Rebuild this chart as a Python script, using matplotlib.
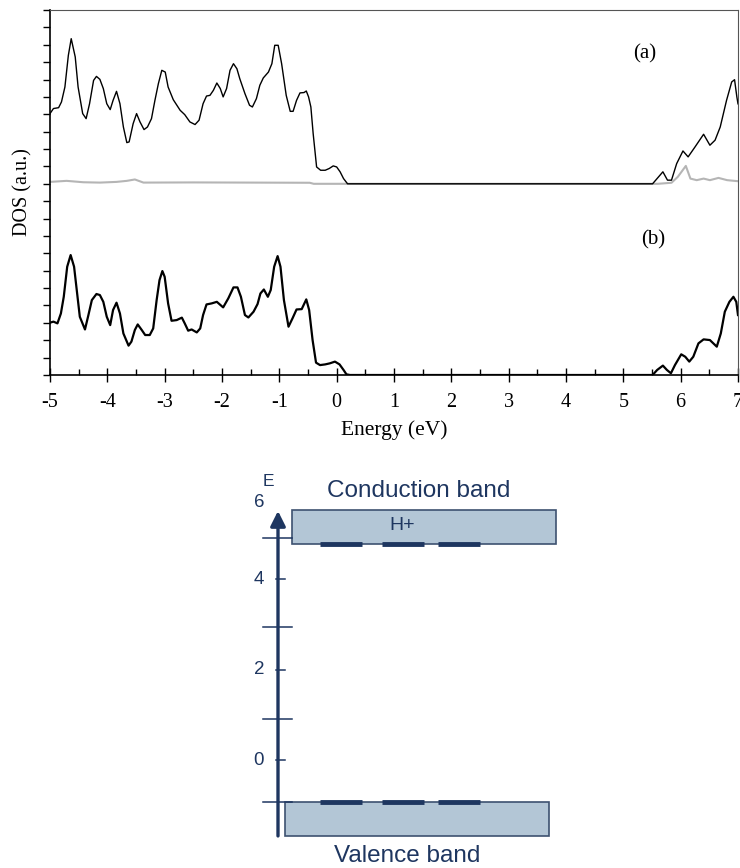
import matplotlib.pyplot as plt
import numpy as np

plt.rcParams["axes.unicode_minus"] = False

# panel (a): total DOS (offset by 11), black curve
energy_a = [-5.00, -4.94, -4.85, -4.80, -4.74, -4.68, -4.63, -4.56, -4.51, -4.43, -4.37, -4.31,
            -4.24, -4.19, -4.13, -4.07, -4.01, -3.95, -3.90, -3.84, -3.78, -3.72, -3.66, -3.62,
            -3.55, -3.49, -3.43, -3.36, -3.30, -3.23, -3.17, -3.11, -3.05, -2.99, -2.94, -2.85,
            -2.73, -2.65, -2.56, -2.47, -2.40, -2.33, -2.27, -2.21, -2.15, -2.09, -2.03, -1.98,
            -1.92, -1.86, -1.80, -1.74, -1.69, -1.60, -1.52, -1.47, -1.40, -1.34, -1.28, -1.19,
            -1.13, -1.08, -1.02, -0.96, -0.88, -0.81, -0.76, -0.70, -0.64, -0.57, -0.53, -0.49,
            -0.45, -0.41, -0.35, -0.28, -0.20, -0.13, -0.06, 0.00, 0.06, 0.12, 0.19,
            5.51, 5.69, 5.77, 5.84, 5.93, 6.04, 6.13, 6.25, 6.40, 6.51, 6.60, 6.69, 6.80, 6.89,
            6.94, 6.98, 7.00]
dos_a = [15.04, 15.33, 15.38, 15.71, 16.57, 18.39, 19.35, 18.30, 16.57, 15.04, 14.75, 15.61,
         16.95, 17.18, 17.01, 16.48, 15.61, 15.27, 15.80, 16.32, 15.61, 14.27, 13.37, 13.41,
         14.46, 15.04, 14.56, 14.12, 14.27, 14.75, 15.80, 16.76, 17.53, 17.43, 16.57, 15.84,
         15.23, 14.98, 14.56, 14.41, 14.66, 15.61, 16.05, 16.09, 16.38, 16.80, 16.48, 16.00,
         16.48, 17.53, 17.91, 17.62, 17.05, 16.19, 15.52, 15.42, 15.90, 16.67, 17.09, 17.43,
         17.91, 18.97, 18.97, 17.91, 16.09, 15.17, 15.17, 15.80, 16.23, 16.25, 16.34, 16.00,
         15.42, 13.89, 11.97, 11.78, 11.78, 11.88, 12.03, 11.97, 11.69, 11.30, 11.00,
         11.00, 11.69, 11.21, 11.21, 12.16, 12.89, 12.55, 13.12, 13.85, 13.22, 13.51, 14.27, 15.80,
         16.86, 16.99, 16.00, 15.60]

# panel (a): hydrogen partial DOS, grey curve
energy_h = [-5.00, -4.71, -4.42, -4.13, -3.84, -3.66, -3.52, -3.37, -2.50, -1.50, -0.47, -0.40,
            5.60, 5.84, 5.95, 6.09, 6.17, 6.28, 6.40, 6.51, 6.66, 6.81, 7.00]
dos_h = [11.11, 11.17, 11.09, 11.07, 11.11, 11.17, 11.25, 11.07, 11.08, 11.07, 11.06, 11.00,
         11.00, 11.06, 11.40, 12.03, 11.30, 11.21, 11.30, 11.21, 11.34, 11.21, 11.15]

# panel (b): DOS without hydrogen
energy_b = [-5.00, -4.94, -4.87, -4.81, -4.76, -4.70, -4.64, -4.58, -4.52, -4.48, -4.39, -4.33,
            -4.27, -4.19, -4.13, -4.07, -4.01, -3.95, -3.90, -3.84, -3.78, -3.72, -3.63, -3.58,
            -3.52, -3.47, -3.40, -3.34, -3.26, -3.20, -3.14, -3.09, -3.04, -3.00, -2.94, -2.88,
            -2.79, -2.70, -2.65, -2.59, -2.53, -2.44, -2.38, -2.33, -2.27, -2.18, -2.09, -1.98,
            -1.89, -1.80, -1.73, -1.67, -1.60, -1.54, -1.45, -1.38, -1.33, -1.27, -1.20, -1.15,
            -1.09, -1.03, -0.98, -0.92, -0.84, -0.77, -0.70, -0.61, -0.53, -0.48, -0.42, -0.36,
            -0.29, -0.20, -0.12, -0.03, 0.05, 0.12, 0.17, 0.23,
            5.51, 5.59, 5.69, 5.76, 5.83, 5.90, 6.01, 6.08, 6.15, 6.22, 6.31, 6.40, 6.51, 6.63,
            6.70, 6.77, 6.85, 6.92, 6.97, 7.00]
dos_b = [3.01, 3.07, 2.97, 3.54, 4.50, 6.23, 6.90, 6.23, 4.50, 3.35, 2.62, 3.45,
         4.31, 4.66, 4.60, 4.21, 3.35, 2.87, 3.74, 4.16, 3.54, 2.39, 1.69, 1.92,
         2.59, 2.91, 2.59, 2.30, 2.30, 2.68, 4.31, 5.46, 5.98, 5.65, 4.12, 3.12,
         3.16, 3.30, 2.97, 2.55, 2.62, 2.45, 2.68, 3.45, 4.06, 4.12, 4.21, 3.89,
         4.41, 5.04, 5.04, 4.50, 3.45, 3.31, 3.64, 4.08, 4.69, 4.92, 4.50, 4.89,
         6.23, 6.84, 6.23, 4.31, 2.78, 3.26, 3.77, 3.79, 4.35, 3.74, 2.01, 0.71,
         0.57, 0.61, 0.67, 0.77, 0.61, 0.29, 0.04, 0.00,
         0.00, 0.29, 0.54, 0.29, 0.10, 0.57, 1.19, 1.05, 0.77, 1.05, 1.82, 2.05, 2.01, 1.63,
         2.39, 3.64, 4.21, 4.50, 4.21, 3.45]

# band diagram (energies in eV)
conduction_band = (4.78, 5.53)
valence_band = (-1.68, -0.93)
labeled_ticks = [0, 2, 4]
plain_ticks = [-0.93, 0.9, 2.94, 4.91]
top_label = ("6", 5.7)
level_names = ("Conduction band", "Valence band", "H+")

navy = "#1e3660"
fill = "#b3c6d6"
edge = "#3d5170"
serif = ["Liberation Serif", "DejaVu Serif"]
sans = ["Liberation Sans", "DejaVu Sans"]

fig = plt.figure(figsize=(7.4, 8.68), dpi=100)

# --- DOS panel ---
ax = fig.add_axes([50 / 740, 1 - 375 / 868, 688 / 740, 365 / 868])
ax.plot(energy_h, dos_h, color="#b5b5b5", lw=1.5)
ax.plot(energy_a, dos_a, color="black", lw=1.0)
ax.plot(energy_b, dos_b, color="black", lw=1.6)
ax.set_xlim(-5, 7)
ax.set_ylim(0, 21)
ax.set_xticks(np.arange(-5, 8, 1))
ax.set_xticks(np.arange(-4.5, 7, 1), minor=True)
ax.set_yticks(np.arange(0, 22, 1))
ax.set_yticklabels([])
ax.tick_params(axis="x", which="major", direction="inout", length=10, width=1.0, pad=8,
               labelsize=14.5)
ax.tick_params(axis="x", which="minor", direction="in", length=4, width=1.0)
ax.tick_params(axis="y", direction="out", length=5, width=1.0)
for lbl in ax.get_xticklabels():
    lbl.set_family(serif)
for side in ("top", "right"):
    ax.spines[side].set_color("#555555")
ax.spines["left"].set_linewidth(1.2)
ax.spines["bottom"].set_linewidth(1.2)
ax.set_xlabel("Energy (eV)", family=serif, fontsize=15.5, labelpad=6)
ax.set_ylabel("DOS (a.u.)", family=serif, fontsize=14.5, labelpad=4)
ax.text(5.38, 18.5, "(a)", family=serif, fontsize=15, ha="center", va="center")
ax.text(5.52, 7.8, "(b)", family=serif, fontsize=15, ha="center", va="center")

# --- band diagram ---
bx = fig.add_axes([230 / 740, 0, 350 / 740, 398 / 868])
bx.set_xlim(0, 350)
bx.set_ylim(-2.389, 6.416)
bx.axis("off")

axis_x = 48
bx.annotate("", xy=(axis_x, conduction_band[1] - 0.02), xytext=(axis_x, valence_band[0]),
            arrowprops=dict(arrowstyle="-|>,head_length=0.9,head_width=0.45", lw=2.4,
                            color=navy, shrinkA=0, shrinkB=0))
for t in plain_ticks:
    bx.plot([33, 62], [t, t], color=navy, lw=1.1)
for t in labeled_ticks:
    bx.plot([46, 55], [t, t], color=navy, lw=1.1)
    bx.text(29, t, str(t), color=navy, family=sans, fontsize=13.5, ha="center", va="center")
bx.text(29, top_label[1], top_label[0], color=navy, family=sans, fontsize=13.5,
        ha="center", va="center")
bx.text(38, 6.17, "E", color=navy, family=sans, fontsize=12.5, ha="center", va="center")

bx.add_patch(plt.Rectangle((62, conduction_band[0]), 264, conduction_band[1] - conduction_band[0],
                           facecolor=fill, edgecolor=edge, lw=1.2))
bx.add_patch(plt.Rectangle((55, valence_band[0]), 264, valence_band[1] - valence_band[0],
                           facecolor=fill, edgecolor=edge, lw=1.2))
for x0, x1 in [(90, 132), (152, 194), (208, 250)]:
    bx.plot([x0, x1], [conduction_band[0], conduction_band[0]], color=navy, lw=3.5,
            solid_capstyle="butt")
    bx.plot([x0, x1], [valence_band[1], valence_band[1]], color=navy, lw=3.5,
            solid_capstyle="butt")

bx.text(189, 5.95, level_names[0], color=navy, family=sans, fontsize=17.5,
        ha="center", va="center")
bx.text(177, -2.12, level_names[1], color=navy, family=sans, fontsize=17.5,
        ha="center", va="center")
bx.text(172, 5.18, level_names[2], color=navy, family=sans, fontsize=14,
        ha="center", va="center")

fig.savefig("out.png", dpi=100)
